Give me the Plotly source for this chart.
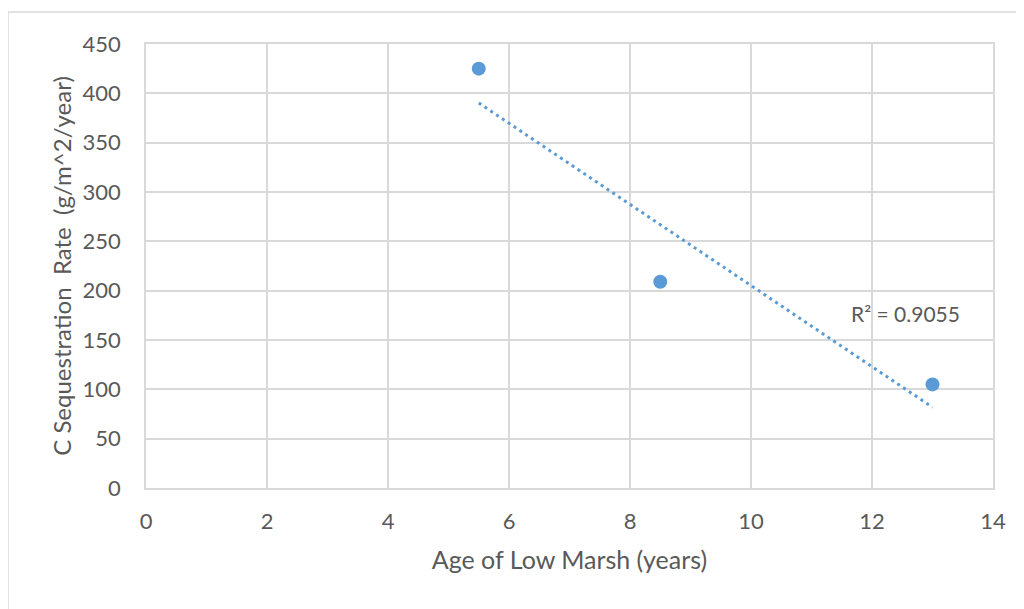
import numpy as np
import plotly.graph_objects as go

age_years = [5.5, 8.5, 13.0]
seq_rate = [425, 209, 105]
x_ticks = [0, 2, 4, 6, 8, 10, 12, 14]
y_ticks = [0, 50, 100, 150, 200, 250, 300, 350, 400, 450]
r2_label = "R² = 0.9055"

blue = "#5B9BD5"
grid = "#D9D9D9"
txt = "#595959"
font_family = "Lato, 'Open Sans', sans-serif"

# linear trendline (least squares) from the data
xa = np.array(age_years)
ya = np.array(seq_rate)
slope, intercept = np.polyfit(xa, ya, 1)
tx = [xa.min(), xa.max()]
ty = [slope * v + intercept for v in tx]

fig = go.Figure()
fig.add_trace(go.Scatter(x=tx, y=ty, mode="lines",
                         line=dict(color=blue, width=3, dash="3px,4px"),
                         showlegend=False, hoverinfo="skip"))
fig.add_trace(go.Scatter(x=age_years, y=seq_rate, mode="markers",
                         marker=dict(color=blue, size=14),
                         showlegend=False))

OFF = 8  # page body margin
W, H = 1024, 609
L, T = 146 - OFF, 44 - OFF
R = W - (993 - OFF)
B = H - (488 - OFF)
pw, ph = W - L - R, H - T - B

def px_to_paper_x(px):
    return (px - OFF - L) / pw

def px_to_paper_y(py):
    return (H - B - (py - OFF)) / ph

fig.add_shape(type="rect", xref="paper", yref="paper",
              x0=px_to_paper_x(8), x1=px_to_paper_x(1060),
              y0=px_to_paper_y(660), y1=px_to_paper_y(12),
              line=dict(color=grid, width=1.5), layer="below")

fig.add_annotation(x=12.55, y=177, xref="x", yref="y", text=r2_label,
                   showarrow=False, font=dict(size=21, color=txt, family=font_family))

fig.update_layout(
    width=W, height=H, autosize=False,
    margin=dict(l=L, r=R, t=T, b=B),
    paper_bgcolor="white", plot_bgcolor="white",
    font=dict(family=font_family, color=txt, size=22),
    xaxis=dict(range=[0, 14], tickvals=x_ticks, showgrid=True, gridcolor=grid,
               gridwidth=1.5, showline=True, linecolor=grid, linewidth=1.5, mirror=True,
               zeroline=False, ticks="", ticklabelstandoff=13,
               tickfont=dict(size=22, color=txt),
               title=dict(text="Age of Low Marsh (years)", font=dict(size=25, color=txt),
                          standoff=18)),
    yaxis=dict(range=[0, 450], tickvals=y_ticks, showgrid=True, gridcolor=grid,
               gridwidth=1.5, showline=True, linecolor=grid, linewidth=1.5, mirror=True,
               zeroline=False, ticks="", ticklabelstandoff=19,
               tickfont=dict(size=22, color=txt),
               title=dict(text="C Sequestration  Rate  (g/m^2/year)",
                          font=dict(size=24, color=txt), standoff=4)),
)

fig.write_html("out.html")
